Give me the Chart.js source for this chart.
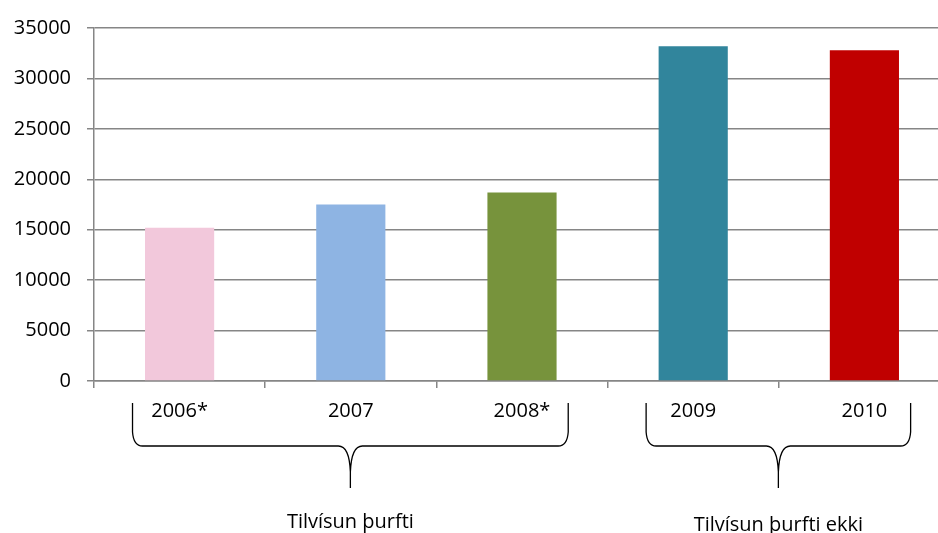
<!DOCTYPE html>
<html lang="is">
<head>
<meta charset="utf-8">
<title>Tilvísun</title>
<script src="https://cdn.jsdelivr.net/npm/chart.js@4"></script>
<style>
  html, body { margin: 0; padding: 0; background: #fff; overflow: hidden; }
  #wrap { width: 950px; height: 533px; }
</style>
</head>
<body>
<div id="wrap"><canvas id="chart" width="950" height="533"></canvas></div>
<script>
// gögn lesin af myndinni
const years = ['2006*', '2007', '2008*', '2009', '2010'];
const values = [15200, 17500, 18700, 33200, 32800];
const barColors = ['#F2C8DB', '#8EB4E3', '#77933C', '#31859C', '#C00000'];
const yTicks = [0, 5000, 10000, 15000, 20000, 25000, 30000, 35000];

// hópar undir x-ásnum (fyrsti og síðasti flokkur)
const groups = [
  { label: 'Tilvísun þurfti', from: 0, to: 2, dy: 0 },
  { label: 'Tilvísun þurfti ekki', from: 3, to: 4, dy: 3 }
];

const FONT = '"Open Sans", "Liberation Sans", sans-serif';
const GRID = '#868686';

// teiknar slaufusviga og hópaheiti
const bracePlugin = {
  id: 'braces',
  afterDraw(chart) {
    const x = chart.scales.x;
    const ctx = chart.ctx;
    const cw = x.getPixelForValue(1) - x.getPixelForValue(0);
    const top = chart.chartArea.bottom + 22;
    const mid = top + 43;
    const tipY = top + 85;
    ctx.save();
    ctx.strokeStyle = '#000';
    ctx.lineWidth = 1.3;
    groups.forEach(g => {
      const l = x.getPixelForValue(g.from) - cw * 0.275;
      const r = x.getPixelForValue(g.to) + cw * 0.27;
      const c = (l + r) / 2;
      ctx.beginPath();
      ctx.moveTo(l, top);
      ctx.lineTo(l, mid - 14);
      ctx.quadraticCurveTo(l + 1, mid, l + 10, mid);
      ctx.lineTo(c - 12, mid);
      ctx.quadraticCurveTo(c - 1, mid, c, mid + 26);
      ctx.lineTo(c, tipY);
      ctx.moveTo(r, top);
      ctx.lineTo(r, mid - 14);
      ctx.quadraticCurveTo(r - 1, mid, r - 10, mid);
      ctx.lineTo(c + 12, mid);
      ctx.quadraticCurveTo(c + 1, mid, c, mid + 26);
      ctx.stroke();

      ctx.fillStyle = '#000';
      ctx.font = '20px ' + FONT;
      ctx.textAlign = 'center';
      ctx.textBaseline = 'middle';
      ctx.fillText(g.label, c, tipY + 34 + g.dy);
    });
    ctx.restore();
  }
};

new Chart(document.getElementById('chart'), {
  type: 'bar',
  data: {
    labels: years,
    datasets: [{
      data: values,
      backgroundColor: barColors,
      borderWidth: 0,
      categoryPercentage: 1,
      barPercentage: 0.404
    }]
  },
  options: {
    responsive: false,
    animation: false,
    layout: { padding: { top: 20, left: 0, right: 0, bottom: 0 } },
    plugins: {
      legend: { display: false },
      tooltip: { enabled: false }
    },
    scales: {
      x: {
        grid: {
          offset: true,
          drawOnChartArea: false,
          drawTicks: true,
          tickLength: 7,
          color: GRID,
          lineWidth: 1.5
        },
        border: { display: true, color: GRID, width: 1.5 },
        ticks: {
          color: '#000',
          font: { family: FONT, size: 20 },
          padding: 11,
          maxRotation: 0
        },
        afterFit(scale) { scale.height = 152; }
      },
      y: {
        min: 0,
        max: 35000,
        afterBuildTicks(scale) { scale.ticks = yTicks.map(v => ({ value: v })); },
        grid: {
          color: GRID,
          lineWidth: 1.5,
          drawTicks: true,
          tickLength: 7
        },
        border: { display: true, color: GRID, width: 1.5 },
        ticks: {
          color: '#000',
          font: { family: FONT, size: 20 },
          padding: 16,
          callback: v => String(v)
        },
        afterFit(scale) { scale.width = 94; }
      }
    }
  },
  plugins: [bracePlugin]
});
</script>
</body>
</html>
